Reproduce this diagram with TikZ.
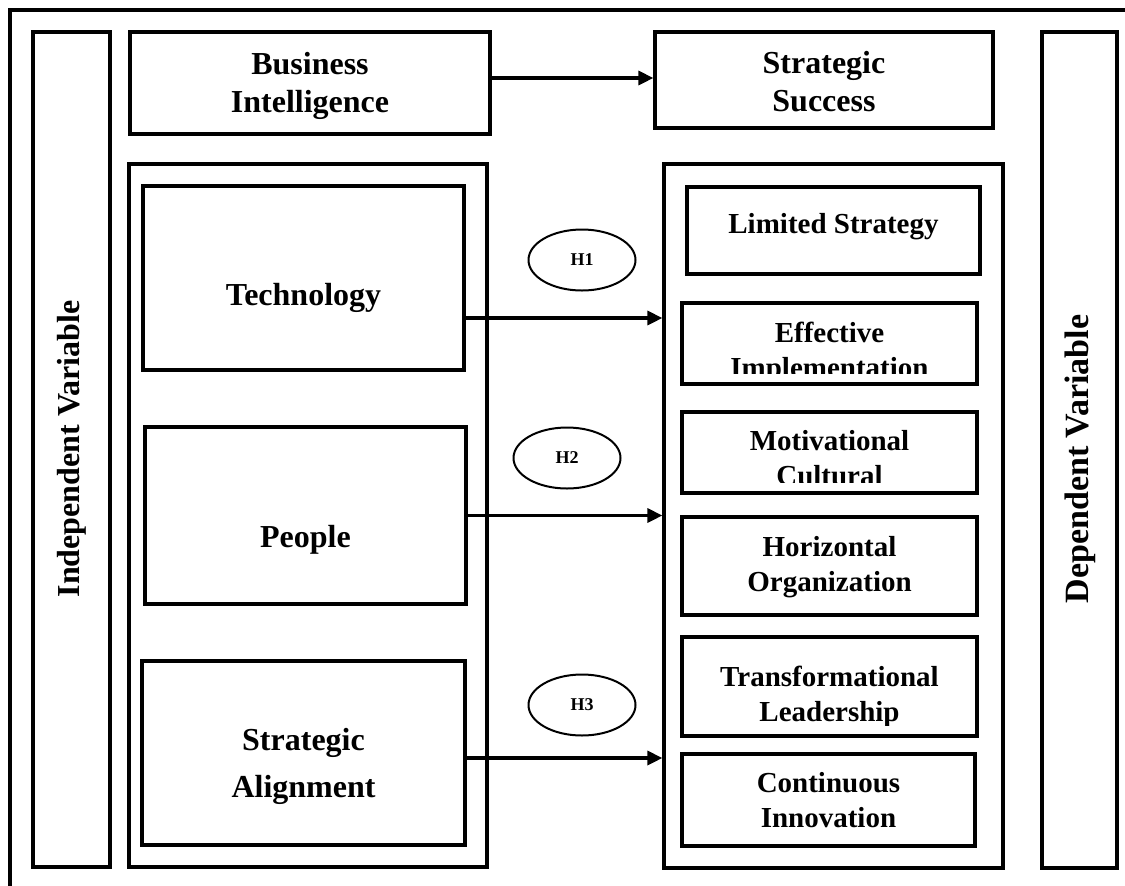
\documentclass[tikz,border=0pt]{standalone}
\usepackage{fontspec}
\setmainfont{Liberation Serif}
\usetikzlibrary{fit,shapes.geometric,arrows.meta}

\begin{document}
\begin{tikzpicture}[x=0.5pt, y=-0.5pt,
        box/.style={draw, line width=1.6pt, inner sep=0pt},
        big/.style={font=\fontsize{16}{19}\selectfont\bfseries, align=center, inner sep=0pt},
        item/.style={font=\fontsize{14.5}{17.5}\selectfont\bfseries, align=center, inner sep=0pt},
        hyp/.style={draw, ellipse, line width=1pt, inner sep=0pt,
            minimum width=53.5pt, minimum height=30.5pt,
            font=\fontsize{9}{11}\selectfont\bfseries},
        arr/.style={-{Triangle[length=7.5pt,width=7pt]}, line width=1.6pt}]
        \useasboundingbox (0,0) rectangle (1125,885);
        \clip (0,0) rectangle (1125,885);
        % outer frame
        \draw[line width=1.6pt] (10,10) rectangle (1140,900);
        % side bars
        \node[box, fit={(33,32) (110,867)}] (IV) {};
        \node[big, rotate=90] at (72,449) {Independent Variable};
        \node[box, fit={(1042,32) (1117,868)}] (DV) {};
        \node[big, rotate=90, font=\fontsize{17}{20}\selectfont\bfseries] at (1080,459) {Dependent Variable};
        % top row
        \node[box, fit={(130,32) (490,134)}] (BI) {};
        \node[big] at (310,85.5) {Business\\Intelligence};
        \node[box, fit={(655,32) (993,128)}] (SS) {};
        \node[big] at (824,81.5) {Strategic\\Success};
        \draw[arr] ([yshift=2.5pt]BI.east) -- ([yshift=2.5pt]BI.east -| SS.west);
        % left column
        \node[box, fit={(129,164) (487,867)}] (Left) {};
        \node[box, fit={(143,186) (464,370)}] (Tech) {};
        \node[big] at (303.5,297.5) {Technology};
        \node[box, fit={(145,427) (466,604)}] (Ppl) {};
        \node[big] at (305.5,539.5) {People};
        \node[box, fit={(142,661) (465,845)}] (SA) {};
        \node[big] at (303.5,766) {Strategic\\[4.5pt]Alignment};
        % right column
        \node[box, fit={(664,164) (1003,868)}] (Right) {};
        \node[box, fit={(687,187) (980,274)}] (LS) {};
        \node[item] at (833.5,227) {Limited Strategy};
        \node[box, fit={(682,303) (977,384)}] (EI) {};
        \begin{scope}
            \clip ([yshift=6pt]EI.south west) rectangle (EI.north east);
            \node[item] at (829.5,352.5) {Effective\\Implementation};
        \end{scope}
        \node[box, fit={(682,412) (977,493)}] (MC) {};
        \begin{scope}
            \clip ([yshift=6pt]MC.south west) rectangle (MC.north east);
            \node[item] at (829.5,458.5) {Motivational\\Cultural};
        \end{scope}
        \node[box, fit={(682,517) (977,615)}] (HO) {};
        \node[item] at (829.5,567) {Horizontal\\Organization};
        \node[box, fit={(682,637) (977,736)}] (TL) {};
        \begin{scope}
            \clip ([yshift=6pt]TL.south west) rectangle (TL.north east);
            \node[item] at (829.5,696.5) {Transformational\\Leadership};
        \end{scope}
        \node[box, fit={(682,754) (975,846)}] (CI) {};
        \node[item] at (828.5,800.5) {Continuous\\Innovation};
        % hypotheses
        \node[hyp] (H1) at (582,260) {H1};
        \node[hyp] (H2) at (567,458) {H2};
        \node[hyp] (H3) at (582,705) {H3};
        \draw[arr] ([yshift=-20pt]Tech.east) -- ([yshift=-20pt]Tech.east -| Right.west);
        \draw[arr] (Ppl.east) -- (Ppl.east -| Right.west);
        \draw[arr] ([yshift=-2.5pt]SA.east) -- ([yshift=-2.5pt]SA.east -| Right.west);
    \end{tikzpicture}
\end{document}
